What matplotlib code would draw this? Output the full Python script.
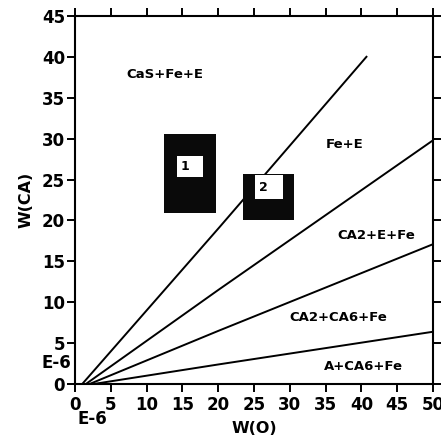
import matplotlib
matplotlib.use("Agg")
import matplotlib.pyplot as plt
from matplotlib.patches import Rectangle

# boundary curves of the phase fields, W(O) vs W(CA)
line1_x = [1.0, 20.2, 40.7]
line1_y = [0.0, 19.2, 40.0]
line2_x = [1.5, 20.0, 50.0]
line2_y = [0.0, 11.5, 29.8]
line3_x = [2.0, 20.0, 50.0]
line3_y = [0.0, 6.5, 17.1]
line4_x = [2.5, 20.0, 50.0]
line4_y = [0.0, 2.4, 6.4]

# phase field names and where they sit
field_names = ["CaS+Fe+E", "Fe+E", "CA2+E+Fe", "CA2+CA6+Fe", "A+CA6+Fe"]
field_x = [12.6, 37.6, 42.1, 36.8, 40.3]
field_y = [37.8, 29.3, 18.2, 8.1, 2.1]

# experiment markers: outer block (x0, x1, y0, y1) and inner window
marker_names = ["1", "2"]
marker_outer = [(12.4, 19.7, 20.9, 30.6), (23.4, 30.6, 20.1, 25.7)]
marker_inner = [(14.2, 17.9, 25.3, 27.9), (25.1, 29.1, 22.6, 25.5)]

x_ticks = list(range(0, 51, 5))
y_ticks = list(range(0, 46, 5))

plt.rcParams["font.family"] = "DejaVu Sans"
plt.rcParams["font.weight"] = "bold"

fig = plt.figure(figsize=(4.41, 4.41), dpi=100)
ax = fig.add_axes([0.170, 0.129, 0.812, 0.835])

for xs, ys in [(line1_x, line1_y), (line2_x, line2_y),
               (line3_x, line3_y), (line4_x, line4_y)]:
    ax.plot(xs, ys, color="black", linewidth=1.4, zorder=2)

for (x0, x1, y0, y1), (ix0, ix1, iy0, iy1), name in zip(marker_outer, marker_inner, marker_names):
    ax.add_patch(Rectangle((x0, y0), x1 - x0, y1 - y0, facecolor="#0a0a0a",
                           edgecolor="none", zorder=3))
    ax.add_patch(Rectangle((ix0, iy0), ix1 - ix0, iy1 - iy0, facecolor="white",
                           edgecolor="none", zorder=4))
    ax.text(ix0 + 0.6, (iy0 + iy1) / 2, name, fontsize=9, fontweight="bold",
            ha="left", va="center", zorder=5)

for name, fx, fy in zip(field_names, field_x, field_y):
    ax.text(fx, fy, name, fontsize=9.5, fontweight="bold", ha="center", va="center")

ax.set_xlim(0, 50)
ax.set_ylim(0, 45)
ax.set_xticks(x_ticks)
ax.set_yticks(y_ticks)

ax.tick_params(axis="both", direction="out", length=5.5, width=1.4,
               labelsize=12, top=True, right=True)
ax.tick_params(axis="y", pad=1.5)
ax.tick_params(axis="x", pad=3.0)
for lbl in ax.get_xticklabels() + ax.get_yticklabels():
    lbl.set_fontweight("bold")
for sp in ax.spines.values():
    sp.set_linewidth(1.5)

ax.set_xlabel("W(O)", fontsize=11.5, fontweight="bold", labelpad=5)
ax.set_ylabel("W(CA)", fontsize=11.5, fontweight="bold", labelpad=6)

# exponent markers next to the axes
fig.text(56 / 441, 1 - 363 / 441, "E-6", fontsize=12, fontweight="bold",
         ha="center", va="center")
fig.text(92 / 441, 1 - 419 / 441, "E-6", fontsize=12, fontweight="bold",
         ha="center", va="center")

fig.savefig("out.png", dpi=100)
